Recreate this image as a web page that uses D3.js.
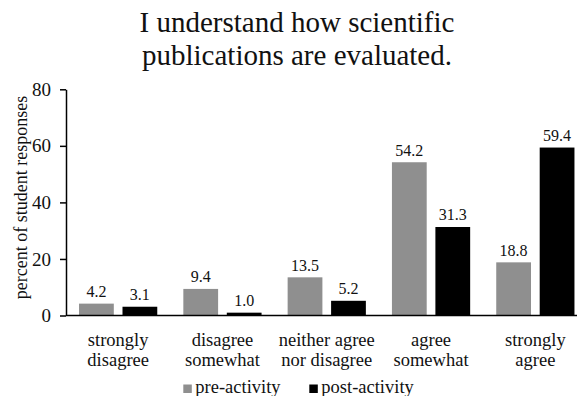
<!DOCTYPE html>
<html>
<head>
<meta charset="utf-8">
<script src="https://cdn.jsdelivr.net/npm/d3@7"></script>
</head>
<body style="margin:0">
<svg id="chart" width="579" height="396"></svg>
<script>
// Survey responses, percent of students
const categories = [
  ["strongly", "disagree"],
  ["disagree", "somewhat"],
  ["neither agree", "nor disagree"],
  ["agree", "somewhat"],
  ["strongly", "agree"]
];
const seriesNames = ["pre-activity", "post-activity"];
const preActivity = [4.2, 9.4, 13.5, 54.2, 18.8];
const postActivity = [3.1, 1.0, 5.2, 31.3, 59.4];
const yTicks = [0, 20, 40, 60, 80];
const titleLines = ["I understand how scientific", "publications are evaluated."];
const yLabel = "percent of student responses";

const colors = { "pre-activity": "#8f8f8f", "post-activity": "#000000" };
const seriesValues = { "pre-activity": preActivity, "post-activity": postActivity };
const FONT = '"Times New Roman", Tinos, "Liberation Serif", Times, "DejaVu Serif"';

const svg = d3.select("#chart");
const plotLeft = 66, plotBottom = 315.5, plotTop = 89.3;

const catKeys = categories.map(c => c.join(" "));
const x = d3.scaleBand().domain(catKeys).range([plotLeft, 587.5])
  .paddingInner(0.25).paddingOuter(0.125);
const xs = d3.scaleBand().domain(seriesNames).range([0, x.bandwidth()])
  .paddingInner(0.2).paddingOuter(0);
const y = d3.scaleLinear().domain([0, 80]).range([plotBottom, plotTop]);

// Helper for text styling
function txt(sel, size) {
  return sel.style("font-family", FONT).attr("font-size", size).attr("fill", "#111");
}

// Title
txt(svg.append("g").selectAll("text").data(titleLines).join("text")
  .attr("x", 297).attr("y", (d, i) => 31.5 + i * 33.5)
  .attr("text-anchor", "middle"), 29)
  .text(d => d);

// Bars and value labels
const groups = svg.append("g").selectAll("g").data(catKeys).join("g")
  .attr("transform", d => `translate(${x(d)},0)`);

groups.each(function(cat, ci) {
  const g = d3.select(this);
  seriesNames.forEach(s => {
    const v = seriesValues[s][ci];
    g.append("rect")
      .attr("x", xs(s)).attr("width", xs.bandwidth())
      .attr("y", y(v)).attr("height", y(0) - y(v))
      .attr("fill", colors[s]);
    txt(g.append("text")
      .attr("x", xs(s) + xs.bandwidth() / 2).attr("y", y(v) - 6.5)
      .attr("text-anchor", "middle"), 16)
      .text(v.toFixed(1));
  });
});

// Y axis
const yAxis = svg.append("g").attr("transform", `translate(${plotLeft},0)`)
  .call(d3.axisLeft(y).tickValues(yTicks).tickSize(6).tickSizeOuter(0).tickPadding(9));
yAxis.attr("font-family", null).attr("font-size", 19);
yAxis.select(".domain").attr("stroke", "#000").attr("stroke-width", 1.5);
yAxis.selectAll(".tick line").attr("stroke", "#000").attr("stroke-width", 1.5);
txt(yAxis.selectAll(".tick text"), 19);

// X axis baseline
const xAxis = svg.append("g").attr("transform", `translate(0,${plotBottom})`)
  .call(d3.axisBottom(x).tickSize(0).tickSizeOuter(0).tickFormat(""));
xAxis.select(".domain").attr("d", `M${plotLeft},0H577`).attr("stroke", "#000").attr("stroke-width", 1.5);
xAxis.selectAll(".tick").remove();

// Category labels
txt(svg.append("g").selectAll("text").data(categories).join("text")
  .attr("x", (d, i) => x(catKeys[i]) + x.bandwidth() / 2)
  .attr("text-anchor", "middle"), 18.5)
  .each(function(d) {
    const el = d3.select(this);
    el.selectAll("tspan").data(d).join("tspan")
      .attr("x", el.attr("x"))
      .attr("y", (t, j) => 345.5 + j * 20)
      .text(t => t);
  });

// Y axis title
txt(svg.append("text")
  .attr("transform", "translate(27,197.5) rotate(-90)")
  .attr("text-anchor", "middle"), 18)
  .text(yLabel);

// Legend
const legendX = [183.3, 309.3];
const legend = svg.append("g").selectAll("g").data(seriesNames).join("g")
  .attr("transform", (d, i) => `translate(${legendX[i]},0)`);
legend.append("rect").attr("x", 0).attr("y", 384.5).attr("width", 8.5).attr("height", 8.5)
  .attr("fill", d => colors[d]);
txt(legend.append("text").attr("x", 12).attr("y", 392.5), 18.5).text(d => d);
</script>
</body>
</html>
